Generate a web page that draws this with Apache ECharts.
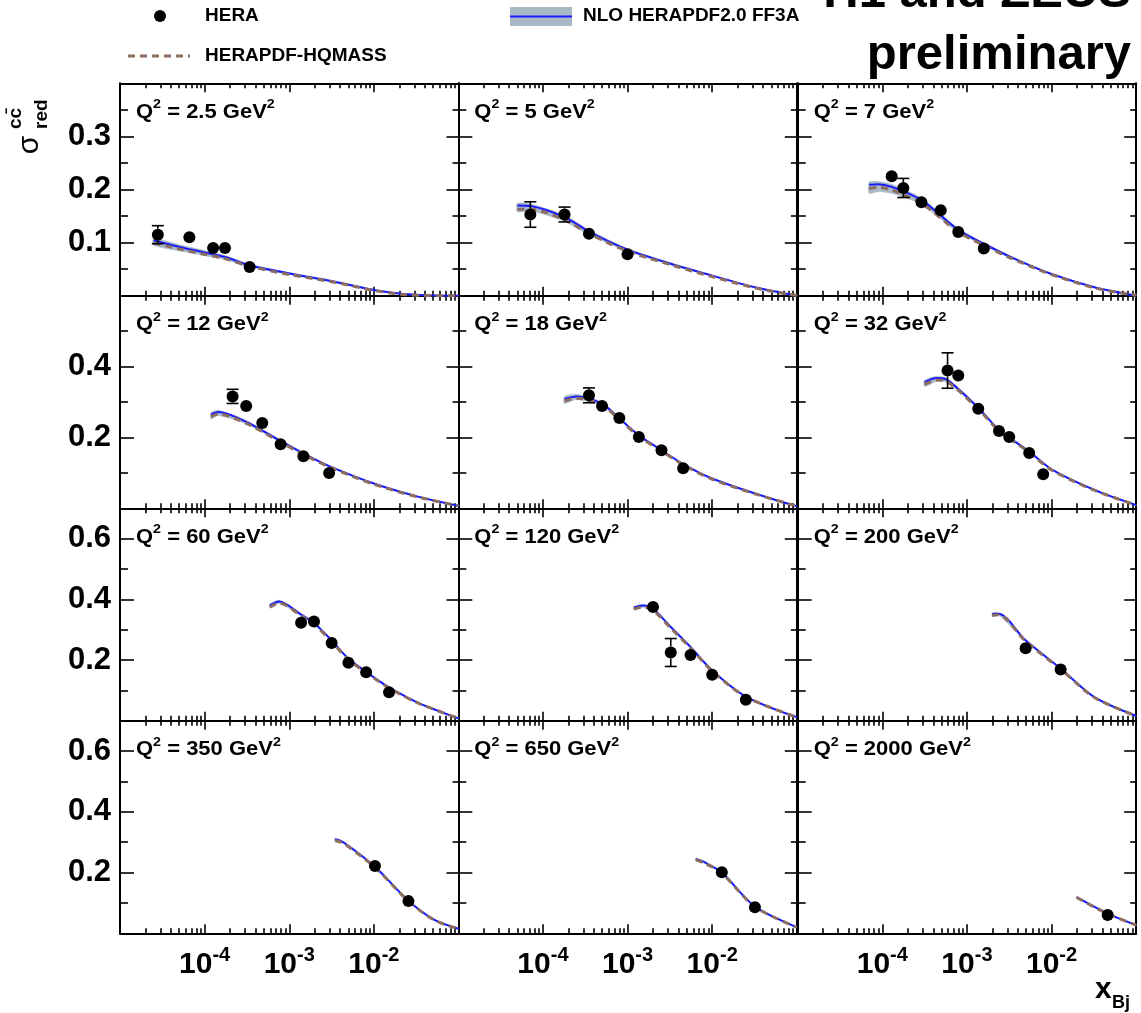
<!DOCTYPE html>
<html><head><meta charset="utf-8">
<script src="https://cdn.jsdelivr.net/npm/echarts@6/dist/echarts.min.js"></script>
<style>html,body{margin:0;padding:0;background:#fff}#c{width:1141px;height:1013px}</style>
</head><body><div id="c"></div>
<script>
// ---------------- DATA ----------------
const q2Labels = ['2.5','5','7','12','18','32','60','120','200','350','650','2000'];
const xMin = 1e-5, xMax = 0.1;
const xMajorTicks = [1e-4, 1e-3, 1e-2];
const xTickExps = ['-4', '-3', '-2'];
const xMinorTicks = [2e-5,3e-5,4e-5,5e-5,6e-5,7e-5,8e-5,9e-5,
  2e-4,3e-4,4e-4,5e-4,6e-4,7e-4,8e-4,9e-4,
  2e-3,3e-3,4e-3,5e-3,6e-3,7e-3,8e-3,9e-3,
  2e-2,3e-2,4e-2,5e-2,6e-2,7e-2,8e-2,9e-2];
const rowYMax = [0.4, 0.6, 0.7, 0.7];
const yMajorTicks = [[0.1,0.2,0.3,0.4],[0.2,0.4,0.6],[0.2,0.4,0.6],[0.2,0.4,0.6]];
const yMinorTicks = [[0.05,0.15,0.25,0.35],[0.1,0.3,0.5],[0.1,0.3,0.5,0.7],[0.1,0.3,0.5,0.7]];
const yTickLabels = [[0.1,0.2,0.3],[0.2,0.4],[0.2,0.4,0.6],[0.2,0.4,0.6]];

// HERA data points, one array per panel
const heraX = [
  [2.8e-5, 6.6e-5, 1.26e-4, 1.74e-4, 3.4e-4],
  [7.1e-5, 1.8e-4, 3.5e-4, 1.0e-3],
  [1.29e-4, 1.77e-4, 2.9e-4, 4.9e-4, 7.9e-4, 1.58e-3],
  [2.14e-4, 3.1e-4, 4.8e-4, 7.9e-4, 1.47e-3, 2.96e-3],
  [3.5e-4, 5.0e-4, 8.0e-4, 1.36e-3, 2.52e-3, 4.54e-3],
  [5.9e-4, 7.9e-4, 1.36e-3, 2.39e-3, 3.16e-3, 5.44e-3, 7.96e-3],
  [1.38e-3, 1.96e-3, 3.17e-3, 5.0e-3, 8.1e-3, 1.51e-2],
  [2.0e-3, 3.24e-3, 5.55e-3, 1.0e-2, 2.5e-2],
  [4.93e-3, 1.28e-2],
  [1.03e-2, 2.56e-2],
  [1.3e-2, 3.2e-2],
  [4.6e-2]
];
const heraY = [
  [0.115, 0.110, 0.090, 0.090, 0.054],
  [0.153, 0.153, 0.117, 0.078],
  [0.225, 0.203, 0.176, 0.161, 0.120, 0.089],
  [0.316, 0.289, 0.241, 0.181, 0.147, 0.100],
  [0.319, 0.289, 0.255, 0.201, 0.164, 0.113],
  [0.389, 0.375, 0.281, 0.218, 0.201, 0.156, 0.096],
  [0.323, 0.327, 0.256, 0.191, 0.160, 0.094],
  [0.375, 0.225, 0.217, 0.152, 0.069],
  [0.239, 0.169],
  [0.222, 0.106],
  [0.201, 0.086],
  [0.060]
];
const heraErr = [
  [0.017, 0.008, 0.006, 0.006, 0.005],
  [0.024, 0.014, 0.008, 0.006],
  [0.013, 0.018, 0.008, 0.008, 0.006, 0.005],
  [0.020, 0.012, 0.010, 0.008, 0.008, 0.008],
  [0.021, 0.010, 0.010, 0.010, 0.010, 0.008],
  [0.050, 0.012, 0.010, 0.010, 0.010, 0.008, 0.008],
  [0.015, 0.015, 0.012, 0.010, 0.010, 0.008],
  [0.015, 0.046, 0.012, 0.010, 0.008],
  [0.012, 0.010],
  [0.012, 0.008],
  [0.012, 0.008],
  [0.006]
];

// Theory curves
const theoryX = [
  [2.5e-5, 5.7e-5, 1.74e-4, 3.3e-4, 1e-3, 3.3e-3, 1e-2, 2.1e-2, 5e-2, 0.1],
  [5e-5, 7.1e-5, 1.8e-4, 3.5e-4, 1e-3, 3.3e-3, 1e-2, 3.2e-2, 8e-2, 0.1],
  [7e-5, 8.9e-5, 1.29e-4, 2.9e-4, 7.9e-4, 1.58e-3, 3.4e-3, 1e-2, 3.2e-2, 8e-2, 0.1],
  [1.19e-4, 1.45e-4, 3.1e-4, 7.9e-4, 1.47e-3, 2.96e-3, 1e-2, 3.3e-2, 0.1],
  [1.8e-4, 2.5e-4, 5e-4, 8e-4, 1.36e-3, 2.52e-3, 4.54e-3, 1e-2, 3.2e-2, 0.1],
  [3.16e-4, 4.4e-4, 5.9e-4, 1.36e-3, 2.39e-3, 5.44e-3, 1e-2, 3.2e-2, 0.1],
  [5.9e-4, 7.6e-4, 1.38e-3, 1.96e-3, 3.17e-3, 5e-3, 1e-2, 1.51e-2, 3.3e-2, 0.1],
  [1.19e-3, 1.52e-3, 2e-3, 3.24e-3, 5.55e-3, 1e-2, 2.5e-2, 0.1],
  [1.98e-3, 2.35e-3, 4.93e-3, 1.28e-2, 3.2e-2, 0.1],
  [3.47e-3, 4.35e-3, 1.03e-2, 2.56e-2, 5.2e-2, 0.1],
  [6.4e-3, 8e-3, 1.3e-2, 3.2e-2, 0.1],
  [1.98e-2, 4.6e-2, 0.1]
];
const ff3aCentral = [
  [0.104, 0.090, 0.073, 0.058, 0.042, 0.027, 0.011, 0.004, 0.0005, 0.0],
  [0.170, 0.169, 0.148, 0.121, 0.087, 0.060, 0.038, 0.016, 0.003, 0.001],
  [0.209, 0.210, 0.205, 0.180, 0.124, 0.098, 0.072, 0.041, 0.016, 0.003, 0.001],
  [0.265, 0.272, 0.244, 0.190, 0.155, 0.119, 0.070, 0.033, 0.007],
  [0.309, 0.316, 0.295, 0.254, 0.206, 0.164, 0.125, 0.084, 0.042, 0.006],
  [0.356, 0.368, 0.362, 0.284, 0.222, 0.160, 0.110, 0.052, 0.009],
  [0.380, 0.393, 0.350, 0.322, 0.265, 0.205, 0.143, 0.110, 0.060, 0.008],
  [0.373, 0.380, 0.369, 0.309, 0.243, 0.166, 0.080, 0.012],
  [0.352, 0.353, 0.265, 0.172, 0.078, 0.016],
  [0.310, 0.300, 0.219, 0.107, 0.044, 0.015],
  [0.245, 0.235, 0.200, 0.088, 0.020],
  [0.119, 0.065, 0.027]
];
const ff3aLow = [
  [0.095, 0.083, 0.068, 0.055, 0.040, 0.026, 0.010, 0.003, 0.0, 0.0],
  [0.158, 0.160, 0.140, 0.115, 0.084, 0.058, 0.037, 0.015, 0.002, 0.0],
  [0.193, 0.196, 0.193, 0.172, 0.119, 0.095, 0.070, 0.040, 0.015, 0.002, 0.0],
  [0.252, 0.262, 0.238, 0.186, 0.152, 0.117, 0.069, 0.032, 0.006],
  [0.296, 0.307, 0.289, 0.250, 0.203, 0.162, 0.123, 0.083, 0.041, 0.005],
  [0.344, 0.358, 0.355, 0.280, 0.219, 0.158, 0.109, 0.051, 0.008],
  [0.372, 0.386, 0.346, 0.319, 0.262, 0.203, 0.141, 0.109, 0.059, 0.007],
  [0.366, 0.374, 0.365, 0.306, 0.241, 0.164, 0.079, 0.011],
  [0.348, 0.350, 0.262, 0.170, 0.077, 0.015],
  [0.305, 0.296, 0.216, 0.105, 0.043, 0.014],
  [0.241, 0.232, 0.198, 0.087, 0.019],
  [0.117, 0.064, 0.026]
];
const ff3aHigh = [
  [0.108, 0.094, 0.076, 0.060, 0.044, 0.029, 0.012, 0.005, 0.001, 0.0005],
  [0.174, 0.173, 0.152, 0.124, 0.089, 0.062, 0.039, 0.017, 0.004, 0.002],
  [0.214, 0.215, 0.210, 0.184, 0.127, 0.100, 0.074, 0.042, 0.017, 0.004, 0.002],
  [0.270, 0.277, 0.248, 0.193, 0.157, 0.121, 0.071, 0.034, 0.008],
  [0.316, 0.322, 0.299, 0.257, 0.208, 0.166, 0.127, 0.085, 0.043, 0.007],
  [0.362, 0.373, 0.366, 0.287, 0.224, 0.162, 0.111, 0.053, 0.010],
  [0.385, 0.397, 0.353, 0.325, 0.267, 0.207, 0.145, 0.111, 0.061, 0.009],
  [0.377, 0.384, 0.372, 0.311, 0.245, 0.168, 0.081, 0.013],
  [0.355, 0.356, 0.268, 0.174, 0.079, 0.017],
  [0.313, 0.303, 0.222, 0.109, 0.045, 0.016],
  [0.248, 0.238, 0.202, 0.089, 0.021],
  [0.121, 0.066, 0.028]
];
const hqmass = [
  [0.100, 0.086, 0.070, 0.056, 0.040, 0.026, 0.010, 0.003, 0.0003, 0.0],
  [0.163, 0.163, 0.143, 0.117, 0.084, 0.058, 0.036, 0.015, 0.003, 0.001],
  [0.202, 0.204, 0.199, 0.174, 0.120, 0.095, 0.070, 0.040, 0.015, 0.003, 0.001],
  [0.259, 0.266, 0.240, 0.187, 0.152, 0.117, 0.068, 0.032, 0.007],
  [0.303, 0.311, 0.291, 0.251, 0.203, 0.162, 0.123, 0.082, 0.041, 0.006],
  [0.350, 0.362, 0.357, 0.280, 0.219, 0.158, 0.108, 0.051, 0.009],
  [0.374, 0.388, 0.346, 0.318, 0.261, 0.202, 0.141, 0.108, 0.059, 0.008],
  [0.368, 0.375, 0.364, 0.305, 0.240, 0.164, 0.079, 0.012],
  [0.347, 0.349, 0.262, 0.170, 0.077, 0.016],
  [0.306, 0.297, 0.217, 0.106, 0.043, 0.015],
  [0.242, 0.232, 0.198, 0.087, 0.020],
  [0.118, 0.064, 0.027]
];

// ---------------- LAYOUT / STYLE ----------------
const FF = '"Liberation Sans", Arial, Helvetica, sans-serif';
const colLeft = [120, 458.3, 797.7];
const panelW = 338.5;
const rowTop = [83.3, 295.8, 508.3, 720.8];
const panelH = 212.5;
const BAND = '#aab9c6', BLUE = '#1a1aff', BROWN = '#8c6e5e';
const MARKER = 12;

const grids = [], xAxes = [], yAxes = [], series = [], graphics = [];
const pair = (xs, ys) => xs.map((x, k) => [x, ys[k]]);

// ROOT-like error bars: only the part outside the marker is drawn
function errRender(params, api) {
  const x = api.value(0), y = api.value(1), e = api.value(2);
  const c = api.coord([x, y]);
  const t = api.coord([x, y + e]), b = api.coord([x, y - e]);
  const rad = MARKER / 2;
  if (c[1] - t[1] <= rad + 1) return {type: 'group', children: []};
  const cw = 6, st = {stroke: '#000', lineWidth: 1.6};
  return {type: 'group', children: [
    {type: 'line', shape: {x1: t[0], y1: t[1], x2: c[0], y2: c[1] - rad}, style: st},
    {type: 'line', shape: {x1: c[0], y1: c[1] + rad, x2: b[0], y2: b[1]}, style: st},
    {type: 'line', shape: {x1: t[0] - cw, y1: t[1], x2: t[0] + cw, y2: t[1]}, style: st},
    {type: 'line', shape: {x1: b[0] - cw, y1: b[1], x2: b[0] + cw, y2: b[1]}, style: st}
  ]};
}

function bandRenderer(i) {
  return function (params, api) {
    if (params.dataIndex !== 0) return {type: 'group', children: []};
    const up = theoryX[i].map((x, k) => api.coord([x, ff3aHigh[i][k]]));
    const dn = theoryX[i].map((x, k) => api.coord([x, ff3aLow[i][k]])).reverse();
    return {type: 'polygon', shape: {points: up.concat(dn), smooth: 0.25},
      style: {fill: BAND, stroke: BAND, lineWidth: 0.5}};
  };
}

for (let i = 0; i < 12; i++) {
  const r = Math.floor(i / 3), c = i % 3;
  grids.push({left: colLeft[c], top: rowTop[r], width: panelW, height: panelH, containLabel: false});
  const xi = xAxes.length, yi = yAxes.length;
  const tickLine = {color: '#000', width: 1.6};
  const baseX = {type: 'log', logBase: 10, min: xMin, max: xMax, gridIndex: i,
    splitLine: {show: false}, minorTick: {show: false}, minorSplitLine: {show: false}};
  const noLine = {show: false, onZero: false};
  const frameLine = {show: true, onZero: false, lineStyle: {color: '#000', width: 2}};
  const xLabel = r === 3 ? {
    show: true, customValues: xMajorTicks, margin: 12,
    formatter: v => '{b|10}{s|' + xTickExps[xMajorTicks.findIndex(t => Math.abs(t - v) / t < 1e-6)] + '}',
    rich: {
      b: {fontSize: 30, fontWeight: 'bold', fontFamily: FF, color: '#000', verticalAlign: 'bottom', lineHeight: 34},
      s: {fontSize: 20, fontWeight: 'bold', fontFamily: FF, color: '#000', verticalAlign: 'top', lineHeight: 20}
    }
  } : {show: false};
  xAxes.push(Object.assign({}, baseX, {position: 'bottom', axisLine: frameLine,
    axisTick: {show: true, inside: true, length: 9, lineStyle: tickLine, customValues: xMajorTicks}, axisLabel: xLabel}));
  xAxes.push(Object.assign({}, baseX, {position: 'bottom', axisLine: noLine,
    axisTick: {show: true, inside: true, length: 5, lineStyle: tickLine, customValues: xMinorTicks}, axisLabel: {show: false}}));
  xAxes.push(Object.assign({}, baseX, {position: 'top', axisLine: frameLine,
    axisTick: {show: true, inside: true, length: 9, lineStyle: tickLine, customValues: xMajorTicks}, axisLabel: {show: false}}));
  xAxes.push(Object.assign({}, baseX, {position: 'top', axisLine: noLine,
    axisTick: {show: true, inside: true, length: 5, lineStyle: tickLine, customValues: xMinorTicks}, axisLabel: {show: false}}));

  const baseY = {type: 'value', min: 0, max: rowYMax[r], gridIndex: i, splitLine: {show: false}};
  const yLabel = c === 0 ? {
    show: true, customValues: yTickLabels[r], margin: 9, color: '#000',
    fontSize: 31, fontWeight: 'bold', fontFamily: FF, formatter: v => v.toFixed(1)
  } : {show: false};
  yAxes.push(Object.assign({}, baseY, {position: 'left', axisLine: frameLine,
    axisTick: {show: true, inside: true, length: 14, lineStyle: tickLine, customValues: yMajorTicks[r]}, axisLabel: yLabel}));
  yAxes.push(Object.assign({}, baseY, {position: 'left', axisLine: noLine,
    axisTick: {show: true, inside: true, length: 8, lineStyle: tickLine, customValues: yMinorTicks[r]}, axisLabel: {show: false}}));
  yAxes.push(Object.assign({}, baseY, {position: 'right', axisLine: frameLine,
    axisTick: {show: true, inside: true, length: 12, lineStyle: tickLine, customValues: yMajorTicks[r]}, axisLabel: {show: false}}));
  yAxes.push(Object.assign({}, baseY, {position: 'right', axisLine: noLine,
    axisTick: {show: true, inside: true, length: 6, lineStyle: tickLine, customValues: yMinorTicks[r]}, axisLabel: {show: false}}));

  const ax = {xAxisIndex: xi, yAxisIndex: yi};
  series.push(Object.assign({type: 'custom', name: 'NLO HERAPDF2.0 FF3A band', renderItem: bandRenderer(i),
    data: theoryX[i].map((x, k) => [x, ff3aLow[i][k], ff3aHigh[i][k]]),
    encode: {x: 0, y: [1, 2]}, silent: true, z: 1}, ax));
  series.push(Object.assign({type: 'line', name: 'NLO HERAPDF2.0 FF3A', data: pair(theoryX[i], ff3aCentral[i]),
    smooth: 0.3, symbol: 'none', lineStyle: {color: BLUE, width: 2}, silent: true, z: 2}, ax));
  series.push(Object.assign({type: 'line', name: 'HERAPDF-HQMASS', data: pair(theoryX[i], hqmass[i]),
    smooth: 0.3, symbol: 'none', lineStyle: {color: BROWN, width: 3, type: [7, 5]}, silent: true, z: 3}, ax));
  series.push(Object.assign({type: 'custom', name: 'HERA err', renderItem: errRender,
    data: heraX[i].map((x, k) => [x, heraY[i][k], heraErr[i][k]]),
    encode: {x: 0, y: 1}, silent: true, z: 4}, ax));
  series.push(Object.assign({type: 'scatter', name: 'HERA', data: pair(heraX[i], heraY[i]),
    symbol: 'circle', symbolSize: MARKER, itemStyle: {color: '#000', opacity: 1}, silent: true, z: 5}, ax));

  graphics.push({type: 'text', x: colLeft[c] + 16, y: rowTop[r] + 15, scaleX: 1.1, z: 10,
    style: {text: '{b|Q}{s|2}{b| = ' + q2Labels[i] + ' GeV}{s|2}', verticalAlign: 'top',
      rich: {
        b: {fontSize: 20, fontWeight: 'bold', fontFamily: FF, fill: '#000', verticalAlign: 'bottom', lineHeight: 24},
        s: {fontSize: 13, fontWeight: 'bold', fontFamily: FF, fill: '#000', verticalAlign: 'top', lineHeight: 13}
      }}});
}

// legend
const lt = {fontSize: 19, fontWeight: 'bold', fontFamily: FF, fill: '#000', verticalAlign: 'middle'};
graphics.push(
  {type: 'circle', shape: {cx: 160, cy: 16, r: 6}, style: {fill: '#000'}},
  {type: 'text', x: 205, y: 16, style: Object.assign({text: 'HERA'}, lt)},
  {type: 'line', shape: {x1: 128, y1: 56, x2: 190, y2: 56}, style: {stroke: BROWN, lineWidth: 3, lineDash: [7, 5]}},
  {type: 'text', x: 205, y: 56, style: Object.assign({text: 'HERAPDF-HQMASS'}, lt)},
  {type: 'rect', shape: {x: 510, y: 7, width: 62, height: 19}, style: {fill: BAND}},
  {type: 'line', shape: {x1: 510, y1: 16.5, x2: 572, y2: 16.5}, style: {stroke: BLUE, lineWidth: 2}},
  {type: 'text', x: 583, y: 16, style: Object.assign({text: 'NLO HERAPDF2.0 FF3A'}, lt)},
  // title
  {type: 'text', x: 1131, y: -7, style: {text: 'H1 and ZEUS', fontSize: 49, fontWeight: 'bold', fontFamily: FF, fill: '#000', align: 'right', verticalAlign: 'middle'}},
  {type: 'text', x: 1131, y: 55, style: {text: 'preliminary', fontSize: 49, fontWeight: 'bold', fontFamily: FF, fill: '#000', align: 'right', verticalAlign: 'middle'}},
  // y title
  {type: 'group', x: 30, y: 145, rotation: Math.PI / 2, children: [
    {type: 'text', x: 0, y: 0, style: {text: 'σ', fontSize: 30, fontFamily: FF, fill: '#000', align: 'center', verticalAlign: 'middle'}},
    {type: 'text', x: 16, y: -14, style: {text: 'cc\u0304', fontSize: 19, fontWeight: 'bold', fontFamily: FF, fill: '#000', align: 'left', verticalAlign: 'middle'}},
    {type: 'text', x: 16, y: 12, style: {text: 'red', fontSize: 19, fontWeight: 'bold', fontFamily: FF, fill: '#000', align: 'left', verticalAlign: 'middle'}}
  ]},
  // x title
  {type: 'text', x: 1095, y: 990, style: {text: 'x', fontSize: 30, fontWeight: 'bold', fontFamily: FF, fill: '#000', align: 'left', verticalAlign: 'middle'}},
  {type: 'text', x: 1112, y: 1003, style: {text: 'Bj', fontSize: 18, fontWeight: 'bold', fontFamily: FF, fill: '#000', align: 'left', verticalAlign: 'middle'}}
);

const chart = echarts.init(document.getElementById('c'), null, {renderer: 'canvas', width: 1141, height: 1013});
chart.setOption({
  animation: false,
  backgroundColor: '#fff',
  grid: grids, xAxis: xAxes, yAxis: yAxes, series: series, graphic: graphics
});
</script></body></html>
